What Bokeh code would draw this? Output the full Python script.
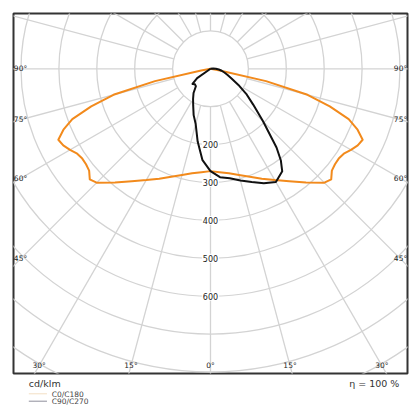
import numpy as np
from bokeh.plotting import figure
from bokeh.layouts import column
from bokeh.models import Range1d
from bokeh.core.properties import value
from bokeh.embed import file_html
from bokeh.resources import INLINE

# ---- data (cd/klm) ----
gamma_c0 = [0, 5, 10, 15, 20, 25, 30, 35, 40, 45, 47.5, 50, 52.5, 55, 57.5, 60, 62.5, 65, 67.5, 70, 72.5, 75, 77.5, 80, 85, 90]
i_c0 = [270, 274, 280, 290, 303, 320, 339, 362, 392, 425, 432, 418, 414, 413, 417, 428, 438, 443, 420, 388, 330, 265, 150, 25, 0, 0]

gamma_c90 = [0, 5, 10, 15, 20, 25, 30, 35, 37.5, 40, 45, 50, 55, 60, 65, 70, 75, 80, 85, 90, 95, 100]
i_c90 = [270, 287, 293, 305, 318, 333, 345, 330, 305, 271, 196, 147, 115, 85, 62, 48, 38, 30, 22, 14, 7, 0]

gamma_c270 = [0, 5, 10, 15, 20, 25, 30, 35, 40, 45, 50, 55, 60]
i_c270 = [270, 242, 195, 151, 130, 108, 92, 78, 60, 58, 62, 43, 0]

circle_ticks = [100, 200, 300, 400, 500, 600, 700, 800, 900, 1000]
radial_labels = [200, 300, 400, 500, 600]
angle_ticks = [0, 15, 30, 45, 60, 75, 90]
legend_names = ["C0/C180", "C90/C270"]

FONT = "DejaVu Sans"
GRID = "#d3d3d3"
TXT = "#222222"

K = 0.379  # px per cd/klm
XR = 197 / K
YT = 55.3 / K
YB = 304.7 / K

p = figure(width=412, height=375, output_backend="svg", toolbar_location=None,
           x_range=Range1d(-XR, XR), y_range=Range1d(-YB, YT),
           x_axis_type=None, y_axis_type=None,
           min_border_left=13, min_border_right=5, min_border_top=13, min_border_bottom=2,
           background_fill_color="white", border_fill_color="white",
           outline_line_color="#333333", outline_line_width=2)

# grid circles
p.circle(x=[0] * len(circle_ticks), y=[0] * len(circle_ticks), radius=circle_ticks,
         fill_color=None, line_color=GRID, line_width=1.3)

# radial lines every 15 degrees, starting at the 100 circle
xs, ys = [], []
for a in range(0, 360, 15):
    t = np.radians(a)
    xs.append([100 * np.sin(t), 1200 * np.sin(t)])
    ys.append([-100 * np.cos(t), -1200 * np.cos(t)])
p.multi_line(xs=xs, ys=ys, line_color=GRID, line_width=1.3)

# radial value labels
p.text(x=[0] * len(radial_labels), y=[-r for r in radial_labels], text=[str(r) for r in radial_labels],
       text_font=value(FONT), text_font_size="8px", text_color=TXT,
       text_align="center", text_baseline="middle",
       background_fill_color="white", padding=1)

# angle labels at frame edges
ix, iy = 7 / K, 8 / K
lx, ly, lt = [], [], []
for a in angle_ticks:
    t = np.radians(a)
    for s in ([1] if a == 0 else [-1, 1]):
        dx, dy = s * np.sin(t), -np.cos(t)
        cands = []
        if abs(dx) > 1e-9:
            cands.append((XR - ix) / abs(dx))
        if dy < -1e-9:
            cands.append((YB - iy) / abs(dy))
        tt = min(cands)
        lx.append(tt * dx)
        ly.append(tt * dy)
        lt.append(f"{a}°")
p.text(x=lx, y=ly, text=lt, text_font=value(FONT), text_font_size="7.5px", text_color=TXT,
       text_align="center", text_baseline="middle")


def curve(g_left, i_left, g_right, i_right):
    gl = np.radians(np.array(g_left, dtype=float))
    gr = np.radians(np.array(g_right, dtype=float))
    il = np.array(i_left, dtype=float)
    ir = np.array(i_right, dtype=float)
    x = np.concatenate([(-il * np.sin(gl))[::-1], (ir * np.sin(gr))[1:]])
    y = np.concatenate([(-il * np.cos(gl))[::-1], (-ir * np.cos(gr))[1:]])
    return x, y


x0, y0 = curve(gamma_c0, i_c0, gamma_c0, i_c0)
p.line(x0, y0, line_color="#f28a1c", line_width=2, line_join="round")
x9, y9 = curve(gamma_c270, i_c270, gamma_c90, i_c90)
p.line(x9, y9, line_color="#111111", line_width=2, line_join="round")

# ---- footer with unit, efficiency and legend ----
q = figure(width=412, height=32, output_backend="svg", toolbar_location=None,
           x_range=Range1d(0, 412), y_range=Range1d(32, 0),
           x_axis_type=None, y_axis_type=None,
           min_border_left=0, min_border_right=0, min_border_top=0, min_border_bottom=0,
           outline_line_color=None, background_fill_color="white", border_fill_color="white")
q.text(x=[16], y=[8], text=["cd/klm"], text_font=value(FONT), text_font_size="9.5px",
       text_color="#333333", text_align="left", text_baseline="alphabetic")
q.text(x=[403.5], y=[8], text=["η = 100 %"], text_font=value(FONT), text_font_size="9.5px",
       text_color="#333333", text_align="right", text_baseline="alphabetic")
q.segment(x0=[16, 16], y0=[18.3, 25.7], x1=[35, 35], y1=[18.3, 25.7],
          line_color=["#f3dfc4", "#8e8e9c"], line_width=1)
q.text(x=[40, 40], y=[18.5, 26.2], text=legend_names, text_font=value(FONT), text_font_size="7.5px",
       text_color="#444444", text_align="left", text_baseline="middle")

layout = column(p, q, spacing=0)
open("out.html", "w").write(file_html(layout, INLINE))
